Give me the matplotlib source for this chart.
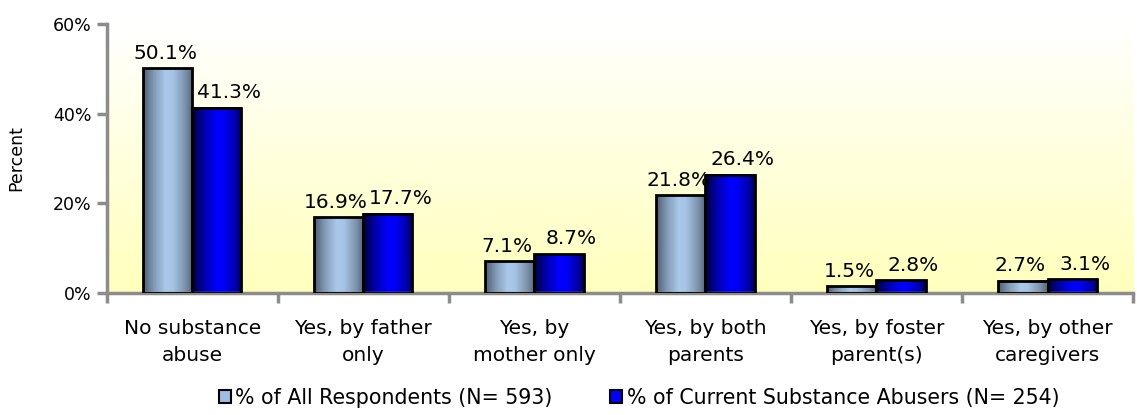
import numpy as np
import matplotlib
matplotlib.use("Agg")
import matplotlib.pyplot as plt
from matplotlib.patches import Rectangle
from matplotlib.colors import LinearSegmentedColormap

categories = ["No substance\nabuse", "Yes, by father\nonly", "Yes, by\nmother only",
              "Yes, by both\nparents", "Yes, by foster\nparent(s)", "Yes, by other\ncaregivers"]
all_resp = [50.1, 16.9, 7.1, 21.8, 1.5, 2.7]
abusers = [41.3, 17.7, 8.7, 26.4, 2.8, 3.1]
series_names = ["% of All Respondents (N= 593)", "% of Current Substance Abusers (N= 254)"]
yticks = [0, 20, 40, 60]

plt.rcParams['font.family'] = ['DejaVu Sans']
fig = plt.figure(figsize=(11.37, 4.15), dpi=100)
ax = fig.add_axes([0.094, 0.294, 0.9025, 0.648])

n = len(categories)
ax.set_xlim(0, n)
ax.set_ylim(0, 60)

# background gradient yellow (bottom) to white (top)
bg = np.linspace(0, 1, 256).reshape(-1, 1)
bgcmap = LinearSegmentedColormap.from_list("bg", ["#ffffbc", "#ffffff"])
ax.imshow(bg, cmap=bgcmap, aspect='auto', extent=[0, n, 0, 60], origin='lower', zorder=0)

light_cmap = LinearSegmentedColormap.from_list(
    "light", [(0, "#4f5d70"), (0.2, "#7f97b3"), (0.45, "#aac8ea"), (0.6, "#a6c4e6"), (0.85, "#7d93ad"), (1, "#55647a")])
blue_cmap = LinearSegmentedColormap.from_list(
    "blue", [(0, "#000040"), (0.25, "#0000b0"), (0.5, "#0000ff"), (0.65, "#0000f8"), (0.9, "#0000a0"), (1, "#000050")])

grad = np.linspace(0, 1, 64).reshape(1, -1)
bw = 0.287

def draw_bar(x0, h, cmap):
    ax.imshow(grad, cmap=cmap, aspect='auto', extent=[x0, x0 + bw, 0, h], zorder=2)
    ax.add_patch(Rectangle((x0, 0), bw, h, fill=False, edgecolor='black', lw=2, zorder=3))

for i in range(n):
    c = i + 0.5
    x1 = c - bw
    x2 = c
    draw_bar(x1, all_resp[i], light_cmap)
    draw_bar(x2, abusers[i], blue_cmap)
    ax.annotate(f"{all_resp[i]}%", (x1 + bw / 2, all_resp[i]), xytext=(-2, 4),
                textcoords='offset points', ha='center', va='bottom', fontsize=14.5, zorder=4)
    ax.annotate(f"{abusers[i]}%", (x2 + bw / 2, abusers[i]), xytext=(9, 4),
                textcoords='offset points', ha='center', va='bottom', fontsize=14.5, zorder=4)

ax.set_xlim(0, n)
ax.set_ylim(0, 60)

for s in ['top', 'right']:
    ax.spines[s].set_visible(False)
for s in ['left', 'bottom']:
    ax.spines[s].set_color('#8c8c8c')
    ax.spines[s].set_linewidth(2.5)

ax.set_yticks(yticks)
ax.set_yticklabels([f"{v}%" for v in yticks], fontsize=12.5)
ax.set_xticks(np.arange(0, n + 1))
ax.set_xticklabels([])
ax.set_xticks(np.arange(n) + 0.5, minor=True)
ax.set_xticklabels(categories, minor=True, fontsize=14.5, linespacing=1.5)
ax.tick_params(axis='x', which='major', length=7, width=2.5, color='#8c8c8c', direction='out')
ax.tick_params(axis='x', which='minor', length=0, pad=19)
ax.tick_params(axis='y', length=7, width=2.5, color='#8c8c8c', pad=4)
ax.set_ylabel("Percent", fontsize=12.5, labelpad=20)

handles = [Rectangle((0, 0), 1, 1, facecolor="#9dbde3", edgecolor='black', lw=1.5),
           Rectangle((0, 0), 1, 1, facecolor="#0000ff", edgecolor='black', lw=1.5)]
fig.legend(handles, series_names, loc='center', bbox_to_anchor=(0.562, 0.041), ncol=2,
           frameon=False, fontsize=14.8, handlelength=0.6, handleheight=0.6,
           handletextpad=0.2, columnspacing=2.8, borderaxespad=0)

fig.savefig("out.png", dpi=100)
